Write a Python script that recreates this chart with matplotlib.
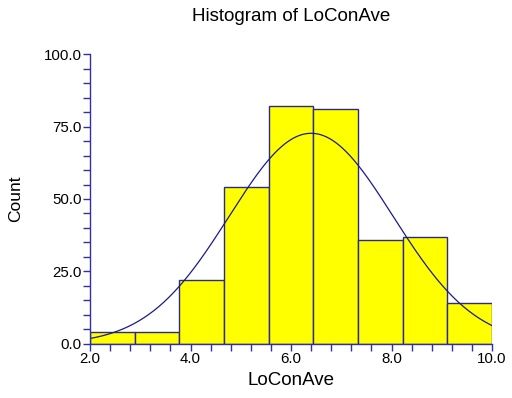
import numpy as np
import matplotlib.pyplot as plt
from matplotlib.ticker import MultipleLocator, FormatStrFormatter

# histogram of LoConAve: 9 equal bins from 2.0 to 10.0
bin_lo = 2.0
bin_hi = 10.0
counts = [4, 4, 22, 54, 82, 81, 36, 37, 14]

# normal curve overlaid on the histogram
fit_mean = 6.4
fit_sd = 1.63

plt.rcParams['font.family'] = ['Liberation Sans', 'DejaVu Sans']
axis_blue = '#3030a0'

edges = np.linspace(bin_lo, bin_hi, len(counts) + 1)
width = edges[1] - edges[0]

fig = plt.figure(figsize=(5.12, 3.98), dpi=100)
ax = fig.add_axes([0.1758, 0.1357, 0.7852, 0.7286])

ax.bar(edges[:-1], counts, width=width, align='edge',
       color='#ffff00', edgecolor='#2a2a8a', linewidth=1.0, zorder=2)

n_total = sum(counts)
xs = np.linspace(bin_lo, bin_hi, 400)
ys = n_total * width / (fit_sd * np.sqrt(2 * np.pi)) * np.exp(-0.5 * ((xs - fit_mean) / fit_sd) ** 2)
ax.plot(xs, ys, color='#1a1a8c', linewidth=0.9, zorder=3)

ax.set_xlim(bin_lo, bin_hi)
ax.set_ylim(0, 100)
ax.xaxis.set_major_locator(MultipleLocator(2.0))
ax.xaxis.set_minor_locator(MultipleLocator(0.4))
ax.yaxis.set_major_locator(MultipleLocator(25.0))
ax.yaxis.set_minor_locator(MultipleLocator(5.0))
ax.xaxis.set_major_formatter(FormatStrFormatter('%.1f'))
ax.yaxis.set_major_formatter(FormatStrFormatter('%.1f'))

for side in ('top', 'right'):
    ax.spines[side].set_visible(False)
for side in ('left', 'bottom'):
    ax.spines[side].set_color(axis_blue)
    ax.spines[side].set_linewidth(1.0)
    ax.spines[side].set_zorder(4)

ax.tick_params(which='both', direction='out', color=axis_blue, width=1.0,
               labelsize=10.8, labelcolor='black')
ax.tick_params(which='major', length=5, pad=1)
ax.tick_params(which='minor', length=5)

ax.set_xlabel('LoConAve', fontsize=13.5, labelpad=4)
ax.set_ylabel('Count', fontsize=12.5, labelpad=15)
fig.text(0.5684, 0.9585, 'Histogram of LoConAve', ha='center', va='center', fontsize=13.5)

fig.savefig('out.png', dpi=100)
